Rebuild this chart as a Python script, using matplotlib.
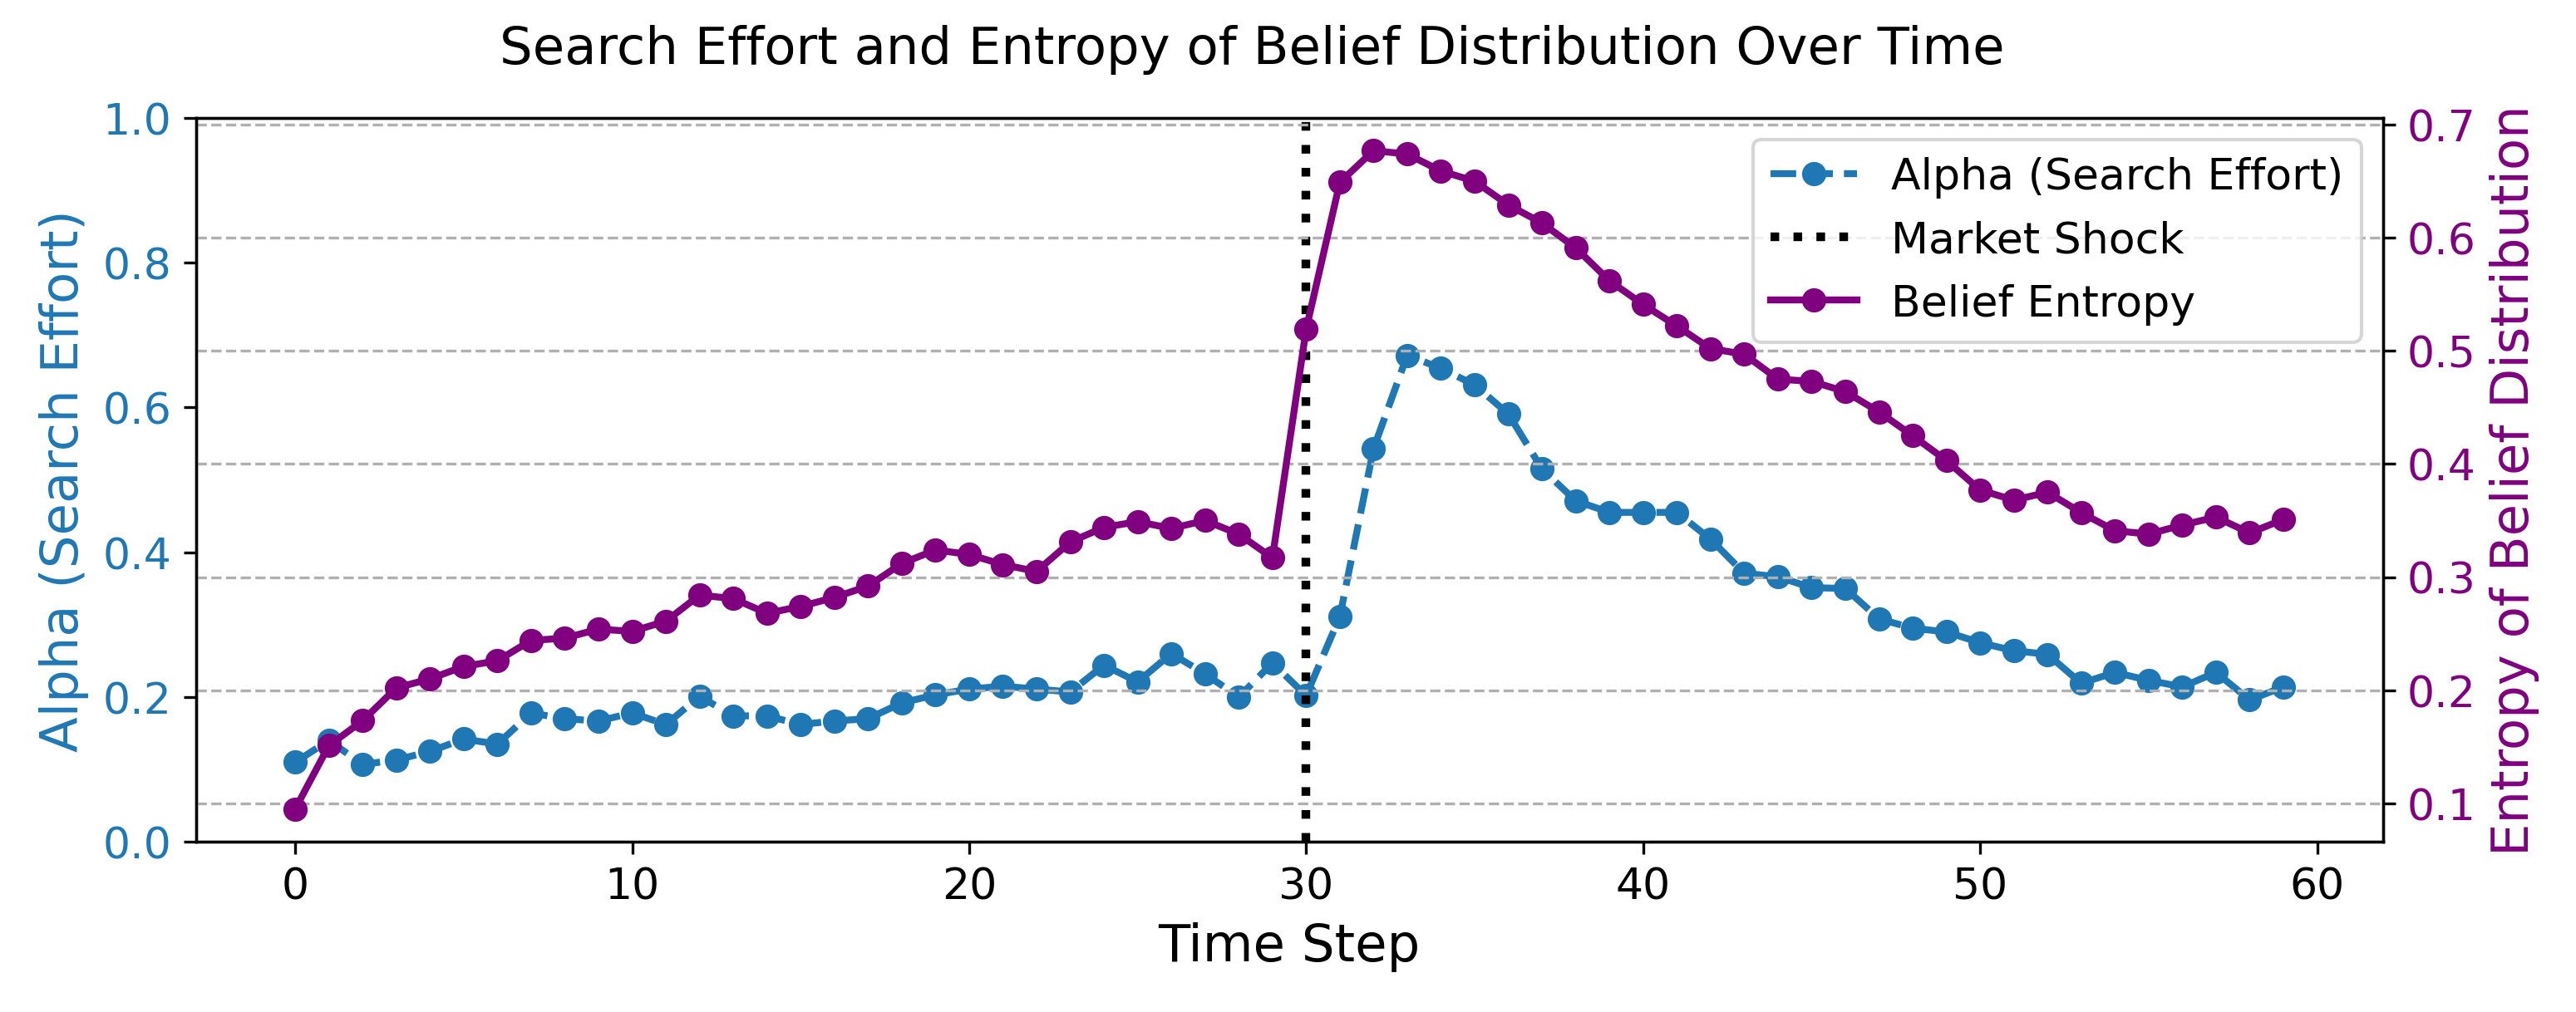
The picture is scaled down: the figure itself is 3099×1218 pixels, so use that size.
import numpy as np
import matplotlib
matplotlib.use("Agg")
import matplotlib.pyplot as plt

# values
time_steps = np.arange(60)
alpha = [0.110, 0.140, 0.107, 0.113, 0.125, 0.142, 0.135, 0.178, 0.170, 0.167,
         0.178, 0.162, 0.201, 0.174, 0.174, 0.162, 0.167, 0.170, 0.192, 0.203,
         0.211, 0.215, 0.211, 0.207, 0.244, 0.221, 0.260, 0.232, 0.200, 0.247,
         0.202, 0.311, 0.543, 0.672, 0.654, 0.631, 0.591, 0.515, 0.471, 0.455,
         0.455, 0.455, 0.418, 0.371, 0.366, 0.351, 0.350, 0.308, 0.295, 0.290,
         0.275, 0.264, 0.259, 0.219, 0.234, 0.223, 0.214, 0.234, 0.196, 0.214]
entropy = [0.095, 0.151, 0.173, 0.202, 0.210, 0.221, 0.226, 0.244, 0.246, 0.254,
           0.252, 0.261, 0.284, 0.281, 0.268, 0.274, 0.282, 0.292, 0.312, 0.324,
           0.320, 0.311, 0.305, 0.331, 0.344, 0.349, 0.343, 0.350, 0.338, 0.317,
           0.519, 0.649, 0.677, 0.674, 0.659, 0.650, 0.629, 0.613, 0.591, 0.562,
           0.541, 0.522, 0.502, 0.497, 0.475, 0.473, 0.464, 0.446, 0.425, 0.403,
           0.377, 0.368, 0.375, 0.357, 0.341, 0.338, 0.346, 0.353, 0.339, 0.351]
shock_time = 30

fig, ax1 = plt.subplots(figsize=(10.33, 4.063), dpi=300)
fig.subplots_adjust(left=0.076, right=0.925, bottom=0.168, top=0.883)

ax1.plot(time_steps, alpha, color='tab:blue', linestyle='--', marker='o', linewidth=2,
         label='Alpha (Search Effort)')
ax1.axvline(shock_time, color='black', linestyle=':', linewidth=2.5, label='Market Shock')
ax1.set_xlabel('Time Step', fontsize=15)
ax1.set_ylabel('Alpha (Search Effort)', color='tab:blue', fontsize=15)
ax1.tick_params(axis='y', labelcolor='tab:blue', labelsize=12.5)
ax1.tick_params(axis='x', labelsize=12.5)
ax1.set_ylim(0, 1)

ax2 = ax1.twinx()
ax2.plot(time_steps, entropy, color='purple', marker='o', linewidth=2, label='Belief Entropy')
ax2.set_ylabel('Entropy of Belief Distribution', color='purple', fontsize=15)
ax2.tick_params(axis='y', labelcolor='purple', labelsize=12.5)
ax2.grid(True, linestyle='--')

h1, l1 = ax1.get_legend_handles_labels()
h2, l2 = ax2.get_legend_handles_labels()
ax2.legend(h1 + h2, l1 + l2, loc='upper right', fontsize=12.5)

fig.suptitle('Search Effort and Entropy of Belief Distribution Over Time', fontsize=15,
             x=0.486, y=0.975, va='top')

plt.savefig('out.png', dpi=300)
